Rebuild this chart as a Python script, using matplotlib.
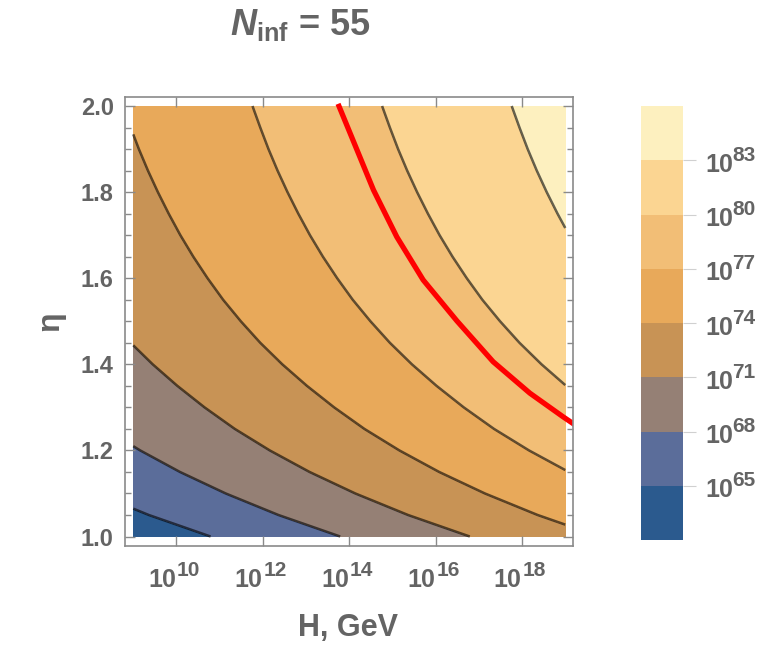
import numpy as np
import matplotlib
matplotlib.use("Agg")
import matplotlib.pyplot as plt
import matplotlib.transforms as mtransforms
from matplotlib.ticker import FixedLocator, MultipleLocator

plt.rcParams['font.family'] = ['Liberation Sans', 'DejaVu Sans']
plt.rcParams['mathtext.fontset'] = 'custom'
plt.rcParams['mathtext.rm'] = 'Liberation Sans'
plt.rcParams['mathtext.bf'] = 'Liberation Sans:bold'
plt.rcParams['mathtext.it'] = 'Liberation Sans:italic'
plt.rcParams['mathtext.bfit'] = 'Liberation Sans:bold:italic'

# ---- data ----
# eta grid (rows) and log10 of the mapped quantity at H = 1e9 GeV and H = 1e19 GeV
eta = [1.00, 1.05, 1.10, 1.15, 1.20, 1.25, 1.30, 1.35, 1.40, 1.45, 1.50,
       1.55, 1.60, 1.65, 1.70, 1.75, 1.80, 1.85, 1.90, 1.95, 2.00]
log_h_edges = [9, 19]
log_n_at_h9 = [63.21, 64.64, 65.86, 66.92, 67.84, 68.65, 69.35, 69.98, 70.55, 71.06, 71.51,
               71.92, 72.28, 72.61, 72.91, 73.18, 73.43, 73.66, 73.87, 74.06, 74.24]
log_n_at_h19 = [73.21, 74.64, 75.86, 76.92, 77.84, 78.65, 79.35, 79.98, 80.55, 81.06, 81.51,
                81.92, 82.28, 82.61, 82.91, 83.18, 83.43, 83.66, 83.87, 84.06, 84.24]

band_levels = [62, 65, 68, 71, 74, 77, 80, 83, 86]
line_levels = [65, 68, 71, 74, 77, 80, 83]
cbar_exponents = [65, 68, 71, 74, 77, 80, 83]
x_tick_exponents = [10, 12, 14, 16, 18]
y_ticks = [1.0, 1.2, 1.4, 1.6, 1.8, 2.0]

# red curve
red_log_h = [13.74, 14.56, 15.10, 15.71, 16.49, 17.33, 18.18, 18.95, 19.23]
red_eta = [2.005, 1.805, 1.696, 1.596, 1.501, 1.406, 1.333, 1.278, 1.259]

band_colors = ['#2b5a8e', '#5b6d9a', '#958075', '#c89355',
               '#e8a95a', '#f2be76', '#fbd592', '#fdf0bf']

text_gray = '#646464'
frame_gray = '#8a8a8a'
base_size = 18
exp_size = 15

fig = plt.figure(figsize=(7.82, 6.53), dpi=100)
ax = fig.add_axes([0.1598, 0.1639, 0.5729, 0.6876])

Z = np.column_stack([log_n_at_h9, log_n_at_h19])
cf = ax.contourf(log_h_edges, eta, Z, levels=band_levels, colors=band_colors)
ax.contour(log_h_edges, eta, Z, levels=line_levels, colors='black',
           linewidths=1.8, alpha=0.6)
ax.plot(red_log_h, red_eta, color='#ff0000', lw=3.8, solid_capstyle='butt')

ax.set_xlim(8.808, 19.178)
ax.set_ylim(0.978, 2.021)

ax.xaxis.set_major_locator(FixedLocator(x_tick_exponents))
ax.set_xticklabels([''] * len(x_tick_exponents))
ax.yaxis.set_major_locator(FixedLocator(y_ticks))
ax.yaxis.set_minor_locator(MultipleLocator(0.05))
ax.set_yticklabels(['%.1f' % v for v in y_ticks])

ax.tick_params(axis='both', which='both', direction='in', top=True, right=True,
               color=frame_gray, labelcolor=text_gray, labelsize=17)
ax.tick_params(axis='both', which='major', length=7, width=1.0)
ax.tick_params(axis='y', which='minor', length=4.5, width=1.0)
ax.tick_params(axis='y', which='major', pad=8)
for lab in ax.get_yticklabels():
    lab.set_fontweight('bold')
for sp in ax.spines.values():
    sp.set_color(frame_gray)
    sp.set_linewidth(1.2)

# x tick labels "10^n" with a large exponent, as in the reference
xtrans = mtransforms.blended_transform_factory(ax.transData, ax.transAxes)
for e in x_tick_exponents:
    tb = mtransforms.offset_copy(xtrans, fig=fig, x=-0.5, y=-40.7, units='dots')
    te = mtransforms.offset_copy(xtrans, fig=fig, x=0.5, y=-30.0, units='dots')
    ax.text(e, 0, '10', transform=tb, ha='right', va='baseline', fontsize=base_size,
            fontweight='bold', color=text_gray, clip_on=False)
    ax.text(e, 0, str(e), transform=te, ha='left', va='baseline', fontsize=exp_size,
            fontweight='bold', color=text_gray, clip_on=False)

ax.set_xlabel('H, GeV', fontsize=22, fontweight='bold', color=text_gray, va='center')
ax.xaxis.set_label_coords(0.498, -0.183)
ax.set_ylabel('η', fontsize=23, fontweight='bold', color=text_gray,
              va='center', ha='center')
ax.yaxis.set_label_coords(-0.167, 0.501)

fig.text(0.3836, 0.961, r'$\mathbfit{N}_{\mathbf{inf}}$ = 55', fontsize=26,
         fontweight='bold', color=text_gray, ha='center', va='center')

cax = fig.add_axes([0.8197, 0.1730, 0.0537, 0.6646])
cb = fig.colorbar(cf, cax=cax, ticks=cbar_exponents)
cb.outline.set_visible(False)
cb.ax.set_yticklabels([''] * len(cbar_exponents))
cb.ax.tick_params(length=9, width=0.8, color='#d0d0d0', labelcolor=text_gray)

ctrans = mtransforms.blended_transform_factory(cax.transAxes, cax.transData)
for e in cbar_exponents:
    tb = mtransforms.offset_copy(ctrans, fig=fig, x=22, y=-11.5, units='dots')
    te = mtransforms.offset_copy(ctrans, fig=fig, x=49, y=-0.5, units='dots')
    cax.text(1, e, '10', transform=tb, ha='left', va='baseline', fontsize=base_size,
             fontweight='bold', color=text_gray, clip_on=False)
    cax.text(1, e, str(e), transform=te, ha='left', va='baseline', fontsize=exp_size,
             fontweight='bold', color=text_gray, clip_on=False)

fig.savefig('out.png', dpi=100)
